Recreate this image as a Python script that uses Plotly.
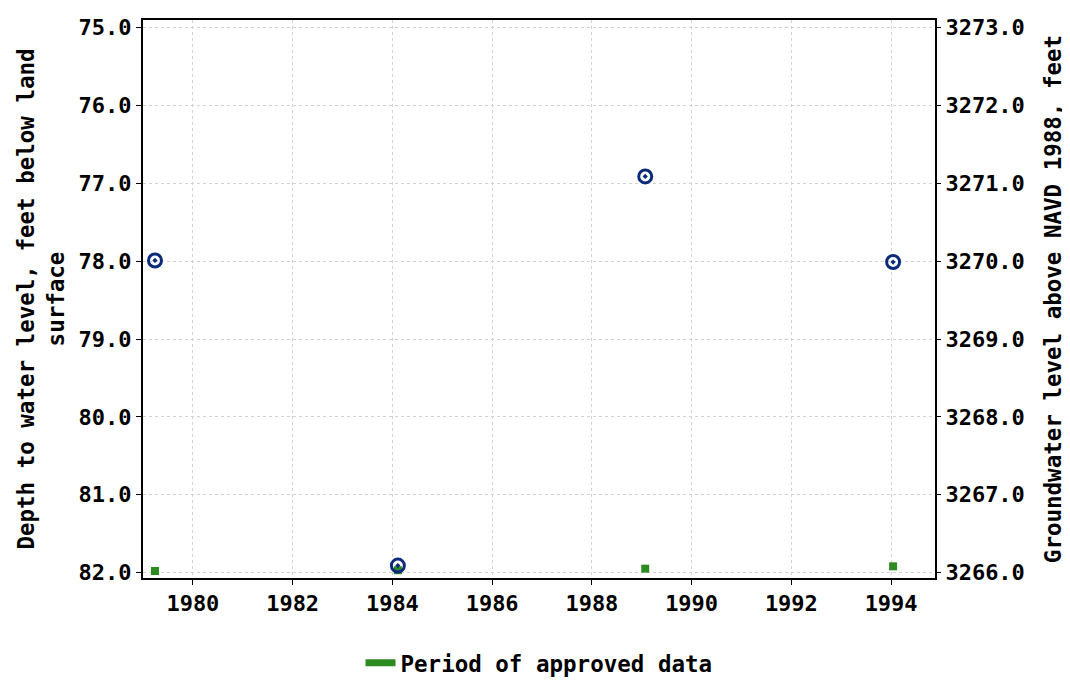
import plotly.graph_objects as go

years = [1979.24, 1984.11, 1989.07, 1994.04]
depth = [77.99, 81.91, 76.91, 78.01]
approved_years = [1979.24, 1984.11, 1989.07, 1994.04]
approved_level = [81.98, 81.97, 81.95, 81.92]
x_ticks = [1980, 1982, 1984, 1986, 1988, 1990, 1992, 1994]
y_ticks = [75, 76, 77, 78, 79, 80, 81, 82]
datum = 3348.0

font = "DejaVu Sans Mono"
fig = go.Figure()
fig.add_trace(go.Scatter(
    x=approved_years, y=approved_level, mode="markers",
    marker=dict(symbol="square", size=8, color="#2e8b22"),
    showlegend=False, hoverinfo="skip"))
fig.add_trace(go.Scatter(
    x=[None], y=[None], mode="lines",
    line=dict(color="#2e8b22", width=7),
    name="Period of approved data"))
fig.add_trace(go.Scatter(
    x=years, y=depth, mode="markers",
    marker=dict(symbol="circle-open-dot", size=13, color="#0a2a7a",
                line=dict(width=3, color="#0a2a7a")),
    showlegend=False))
fig.add_trace(go.Scatter(
    x=years, y=[datum - d for d in depth], mode="markers",
    marker=dict(opacity=0), yaxis="y2", showlegend=False, hoverinfo="skip"))

tf = dict(family=font, size=22, weight="bold")
ttf = dict(family=font, size=22.5, weight="bold")
fig.update_layout(
    width=1062, height=679,
    paper_bgcolor="white", plot_bgcolor="white",
    margin=dict(l=135, r=135, t=12, b=109, autoexpand=False),
    font=dict(family=font, size=22, color="black"),
    xaxis=dict(range=[1979.0, 1994.88], tickvals=x_ticks,
               showgrid=True, gridcolor="#d2d2d2", griddash="dot",
               showline=True, linecolor="black", linewidth=2, mirror=True,
               ticks="outside", ticklen=5, tickcolor="black",
               tickfont=tf, zeroline=False, automargin=False),
    yaxis=dict(range=[82.07, 74.9], tickvals=y_ticks,
               ticktext=[f"{v:.1f}" for v in y_ticks],
               showgrid=True, gridcolor="#d2d2d2", griddash="dot",
               showline=True, linecolor="black", linewidth=2, mirror=True,
               ticks="outside", ticklen=5, tickcolor="black",
               tickfont=tf, zeroline=False, automargin=False,
               title=dict(text="Depth to water level, feet below land<br>surface",
                          font=ttf, standoff=8)),
    yaxis2=dict(range=[datum - 82.07, datum - 74.9],
                tickvals=[datum - v for v in y_ticks],
                ticktext=[f"{datum - v:.1f}" for v in y_ticks],
                overlaying="y", side="right", showgrid=False, zeroline=False,
                ticks="outside", ticklen=5, tickcolor="black",
                tickfont=tf, automargin=False,
                title=dict(text="Groundwater level above NAVD 1988, feet",
                           font=ttf, standoff=21)),
    legend=dict(orientation="h", x=0.5, xanchor="center", xref="container",
                y=0.035, yanchor="middle", yref="container",
                font=ttf),
)
fig.write_html("out.html")
